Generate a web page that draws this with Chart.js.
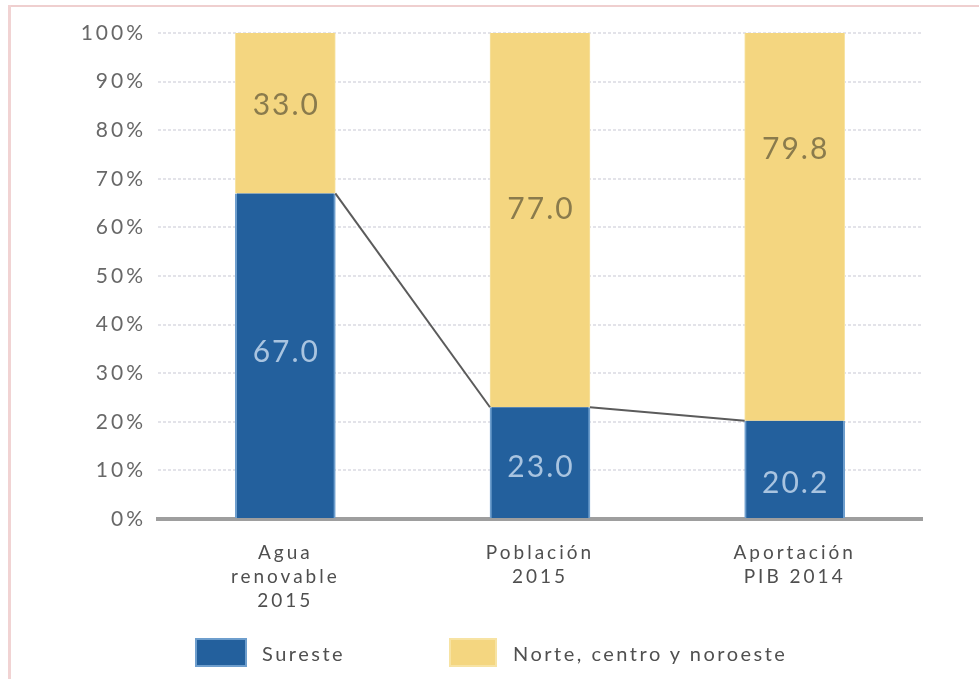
<!DOCTYPE html>
<html><head><meta charset="utf-8">
<script src="https://cdn.jsdelivr.net/npm/chart.js@4.4.1/dist/chart.umd.min.js"></script>
<style>
html,body{margin:0;padding:0;background:#fff;}
#wrap{position:relative;width:979px;height:679px;overflow:hidden;font-family:Lato,sans-serif;}
#c{position:absolute;left:0;top:0;}
.frameTop{position:absolute;left:8px;top:5px;width:971px;height:2px;background:#efcfcf;}
.frameLeft{position:absolute;left:8px;top:5px;width:3px;height:674px;background:#f1d3d3;}
.lg{position:absolute;top:638px;height:29px;box-sizing:border-box;}
.lt{position:absolute;top:639px;font-size:20px;letter-spacing:2.5px;color:#505050;line-height:28px;white-space:nowrap;}
</style></head><body>
<div id="wrap">
<canvas id="c" width="979" height="679"></canvas>
<div class="frameTop"></div><div class="frameLeft"></div>
<div id="legend"></div>
</div>
<script>
const categories = [['Agua', 'renovable', '2015'], ['Población', '2015'], ['Aportación', 'PIB 2014']];
const seriesNames = ['Sureste', 'Norte, centro y noroeste'];
const sureste = [67.0, 23.0, 20.2];
const norte = [33.0, 77.0, 79.8];
const yTickLabels = ['0%', '10%', '20%', '30%', '40%', '50%', '60%', '70%', '80%', '90%', '100%'];

const BLUE = '#23609d', BLUE_EDGE = '#6e9ecd';
const YELLOW = '#f4d680', YELLOW_EDGE = '#f7e3a3';

Chart.defaults.font.family = 'Lato, sans-serif';

const spacingPlugin = {
  id: 'spacing',
  beforeUpdate(chart) { chart.ctx.letterSpacing = '3px'; },
  beforeDraw(chart) { chart.ctx.letterSpacing = '3px'; }
};

const connectorPlugin = {
  id: 'connector',
  afterDatasetsDraw(chart) {
    const meta = chart.getDatasetMeta(0);
    const ctx = chart.ctx;
    ctx.save();
    ctx.strokeStyle = '#5b5b5b';
    ctx.lineWidth = 2;
    for (let i = 0; i < meta.data.length - 1; i++) {
      const a = meta.data[i], b = meta.data[i + 1];
      ctx.beginPath();
      ctx.moveTo(a.x + a.width / 2, a.y);
      ctx.lineTo(b.x - b.width / 2, b.y);
      ctx.stroke();
    }
    ctx.restore();
  }
};

const labelPlugin = {
  id: 'segLabels',
  afterDatasetsDraw(chart, args, opts) {
    const ctx = chart.ctx;
    chart.data.datasets.forEach((ds, di) => {
      const meta = chart.getDatasetMeta(di);
      meta.data.forEach((el, i) => {
        const top = Math.min(el.y, el.base), bot = Math.max(el.y, el.base);
        const ty = top + (bot - top) * opts.anchors[di][i];
        ctx.save();
        ctx.font = '30px Lato, sans-serif';
        ctx.letterSpacing = '2px';
        ctx.fillStyle = opts.colors[di];
        ctx.textAlign = 'center';
        ctx.textBaseline = 'middle';
        ctx.fillText(ds.data[i].toFixed(1), el.x + 1, ty);
        ctx.restore();
      });
    });
  }
};

new Chart(document.getElementById('c'), {
  type: 'bar',
  data: {
    labels: categories,
    datasets: [
      { label: seriesNames[0], data: sureste, backgroundColor: BLUE, borderColor: BLUE_EDGE,
        borderWidth: { left: 2, right: 2, top: 0, bottom: 0 }, barThickness: 100 },
      { label: seriesNames[1], data: norte, backgroundColor: YELLOW, borderColor: YELLOW_EDGE,
        borderWidth: { left: 1, right: 1, top: 0, bottom: 0 }, barThickness: 100 }
    ]
  },
  options: {
    responsive: false,
    animation: false,
    layout: { padding: { top: 33, right: 57, bottom: 60, left: 0 } },
    plugins: {
      legend: { display: false },
      tooltip: { enabled: false },
      segLabels: {
        anchors: [[0.49, 0.54, 0.64], [0.45, 0.47, 0.30]],
        colors: ['#a9c4e0', '#8a7b4c']
      }
    },
    scales: {
      x: {
        stacked: true,
        grid: { display: false, drawTicks: false },
        border: { display: true, color: '#9e9e9e', width: 4 },
        ticks: { color: '#4f4f4f', font: { size: 19, lineHeight: '24px' }, padding: 22, autoSkip: false, maxRotation: 0 },
        afterFit(s) { s.height = 100; }
      },
      y: {
        stacked: true,
        min: 0, max: 100,
        grid: { drawTicks: false, lineWidth: 2,
          color: c => (c.tick && c.tick.value === 0) ? 'rgba(0,0,0,0)' : '#e3e3e9' },
        border: { display: false, dash: [3, 2] },
        ticks: { stepSize: 10, color: '#686868', font: { size: 21 }, padding: 12,
          callback: v => yTickLabels[Math.round(v / 10)] },
        afterFit(s) { s.width = 158; }
      }
    }
  },
  plugins: [spacingPlugin, connectorPlugin, labelPlugin]
});

// legend (HTML)
const legend = document.getElementById('legend');
const legendItems = [
  { name: seriesNames[0], fill: BLUE, edge: BLUE_EDGE, box: [195, 52], text: 262 },
  { name: seriesNames[1], fill: YELLOW, edge: YELLOW_EDGE, box: [449, 48], text: 513 }
];
legendItems.forEach(it => {
  const b = document.createElement('div');
  b.className = 'lg';
  b.style.left = it.box[0] + 'px';
  b.style.width = it.box[1] + 'px';
  b.style.background = it.fill;
  b.style.border = '2px solid ' + it.edge;
  legend.appendChild(b);
  const t = document.createElement('div');
  t.className = 'lt';
  t.style.left = it.text + 'px';
  t.textContent = it.name;
  legend.appendChild(t);
});
</script>
</body></html>
